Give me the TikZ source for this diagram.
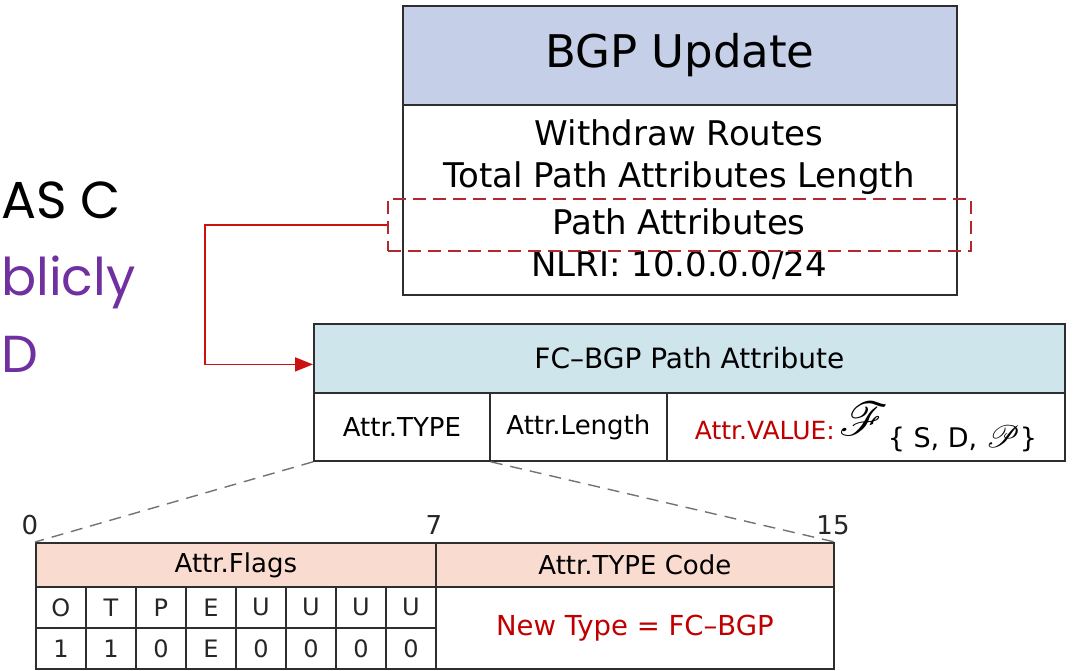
\documentclass[tikz,border=0pt]{standalone}
\usepackage{fontspec}
\usepackage{mathrsfs}
\usepackage{graphicx}
\setmainfont{DejaVu Sans}
\newfontfamily\bigfont{Poppins}
\usetikzlibrary{arrows.meta,calc}
\definecolor{bgpblue}{HTML}{C5CFE7}
\definecolor{fccyan}{HTML}{CFE5EC}
\definecolor{flagpeach}{HTML}{FADBD0}
\definecolor{darkred}{HTML}{C00000}
\definecolor{boxred}{HTML}{B3282E}
\definecolor{arrowred}{HTML}{CC1111}
\definecolor{slidepurple}{HTML}{7030A0}
\definecolor{edge}{HTML}{2E2E2E}
\newcommand{\scrF}{\scalebox{1.9}{\fontsize{24.88}{26}\selectfont$\mathscr{F}$}}
\newcommand{\scrP}{\scalebox{1.25}{\fontsize{24.88}{26}\selectfont$\mathscr{P}$}}
\tikzset{
  cell/.style={draw=edge, line width=1.8pt, anchor=north west, inner sep=0pt, text=black},
  fieldtext/.style={inner sep=0pt, text=black, font=\fontsize{34}{38}\selectfont},
  bittext/.style={inner sep=0pt, text=black!85, font=\fontsize{24}{26}\selectfont},
  zoomline/.style={draw=black!55, line width=1.4pt, dash pattern=on 12pt off 8pt},
  slide/.style={inner sep=0pt, anchor=base west, font=\bigfont\fontsize{52}{56}\selectfont}
}
\begin{document}
\begin{tikzpicture}[x=1pt,y=-1pt]
\useasboundingbox (0,0) rectangle (1076,670);
% slide text running in from the left
\node[slide] (asc) at (1,218) {AS C};
\node[slide, text=slidepurple] (pub) at (1,295) {blicly};
\node[slide, text=slidepurple] (dd) at (1,372) {D};

% BGP Update message
\node[cell, fill=bgpblue, minimum width=554pt, minimum height=99pt, font=\fontsize{45}{48}\selectfont] (bgphead) at (402,5) {BGP Update};
\node[cell, minimum width=554pt, minimum height=190pt] (bgpbody) at (402,104) {};
\node[fieldtext] (wr) at (679,133) {Withdraw Routes};
\node[fieldtext] (tpal) at (679,178) {Total Path Attributes Length};
\node[fieldtext] (pat) at (679,222) {Path Attributes};
\node[fieldtext] (nlri) at (679,265) {NLRI: 10.0.0.0/24};
\node[draw=boxred, line width=1.6pt, dash pattern=on 13pt off 7pt, anchor=north west, minimum width=583pt, minimum height=52pt, inner sep=0pt] (pa) at (387,198) {};

% FC-BGP path attribute
\node[cell, fill=fccyan, minimum width=751pt, minimum height=69pt, font=\fontsize{28}{30}\selectfont] (fchead) at (313,323) {FC–BGP Path Attribute};
\node[cell, minimum width=176pt, minimum height=68pt, font=\fontsize{26}{28}\selectfont] (atype) at (313,392) {Attr.TYPE};
\node[cell, minimum width=177pt, minimum height=68pt, font=\fontsize{26}{28}\selectfont] (alen) at (489,392) {Attr.Length};
\node[cell, minimum width=398pt, minimum height=68pt, font=\fontsize{25}{28}\selectfont] (aval) at (666,392)
  {\textcolor{darkred}{Attr.VALUE:}\,\raisebox{4pt}{\scrF}\raisebox{-8pt}{\fontsize{27}{30}\selectfont\{ S, D, \scrP\}}};

\draw[arrowred, line width=1.7pt, -{Triangle[length=18pt,width=14pt]}]
  (pa.west) -- ++(-182,0) |- ([yshift=-6pt]fchead.west);

% Attr.TYPE field layout
\node[cell, fill=flagpeach, minimum width=400pt, minimum height=44pt, font=\fontsize{26}{28}\selectfont] (flags) at (35,542) {Attr.Flags};
\node[cell, fill=flagpeach, minimum width=398pt, minimum height=44pt, font=\fontsize{26}{28}\selectfont] (code) at (435,542) {Attr.TYPE Code};
\node[cell, minimum width=398pt, minimum height=82pt, text=darkred, font=\fontsize{27.5}{30}\selectfont] (newtype) at (435,586) {New Type = FC–BGP};
\foreach \i/\a/\b in {0/O/1,1/T/1,2/P/0,3/E/E,4/U/0,5/U/0,6/U/0,7/U/0}{
  \node[cell, bittext, minimum width=50pt, minimum height=41pt] (n\i) at ({35+50*\i},586) {\a};
  \node[cell, bittext, minimum width=50pt, minimum height=41pt] (v\i) at ({35+50*\i},627) {\b};
}
\node[bittext, font=\fontsize{26}{28}\selectfont, anchor=south] (b0) at (30,535) {0};
\node[bittext, font=\fontsize{26}{28}\selectfont, anchor=south] (b7) at (434,535) {7};
\node[bittext, font=\fontsize{26}{28}\selectfont, anchor=south] (b15) at (833,535) {15};

\draw[zoomline] (atype.south west) -- (flags.north west);
\draw[zoomline] (atype.south east) -- (code.north east);
\end{tikzpicture}
\end{document}
